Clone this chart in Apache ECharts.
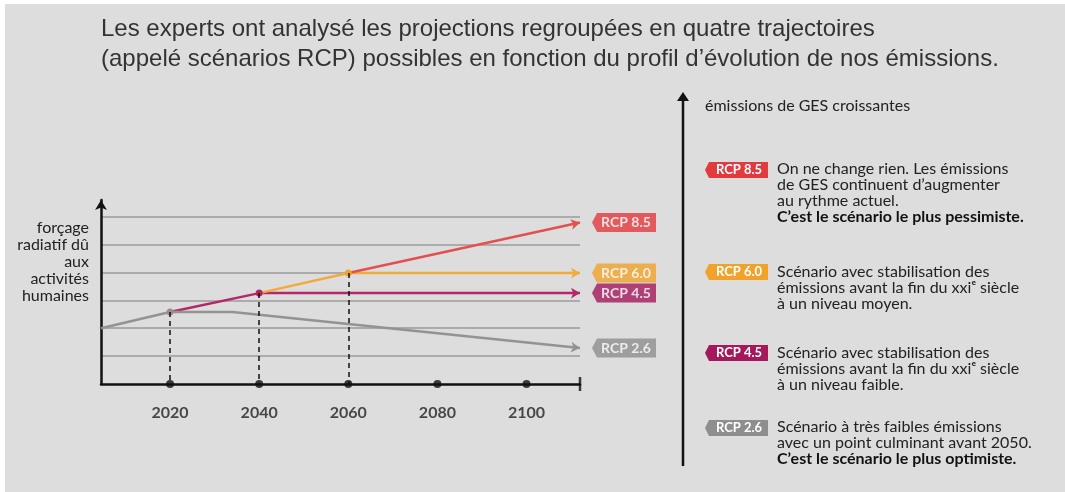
<!DOCTYPE html>
<html>
<head>
<meta charset="utf-8">
<script src="https://cdn.jsdelivr.net/npm/echarts@6/dist/echarts.min.js"></script>
<style>
  html, body { margin: 0; padding: 0; background: #fff; }
  #main { width: 1065px; height: 492px; }
</style>
</head>
<body>
<div id="main"></div>
<script>
// trajectoires (année, forçage radiatif en graduations)
const rcp26 = [[2004.5, 2.0], [2020, 2.58], [2034, 2.58], [2112, 1.29]];
const rcp45 = [[2020, 2.58], [2040, 3.26], [2112, 3.26]];
const rcp60 = [[2040, 3.26], [2060, 3.98], [2112, 3.98]];
const rcp85 = [[2060, 3.98], [2112, 5.79]];
const tickYears = [2020, 2040, 2060, 2080, 2100];
const tickLabels = ['2020', '2040', '2060', '2080', '2100'];
const dashYears = [2020, 2040, 2060];
const dashValues = [2.58, 3.26, 3.98];
const names = ['RCP 8.5', 'RCP 6.0', 'RCP 4.5', 'RCP 2.6'];
const colors = ['#e23b3f', '#f0a22a', '#a3195b', '#8e8e8e'];
const lineColors = ['#e4504f', '#f2aa3a', '#b3286a', '#939393'];

const chartDom = document.getElementById('main');
const myChart = echarts.init(chartDom);

// dernier point = tête de flèche
function withArrow(data, color, rot, firstDot) {
  return data.map((d, i) => {
    if (i === data.length - 1) {
      return { value: d, symbol: 'arrow', symbolSize: [8, 9], symbolRotate: rot, itemStyle: { color: color } };
    }
    if (i === 0 && firstDot) {
      return { value: d, symbol: 'circle', symbolSize: 7, itemStyle: { color: firstDot } };
    }
    return { value: d, symbol: 'none' };
  });
}

function lineSeries(name, data, color, rot, firstDot) {
  return {
    name: name,
    type: 'line',
    data: withArrow(data, color, rot, firstDot),
    showSymbol: true,
    symbol: 'none',
    clip: false,
    silent: true,
    lineStyle: { color: color, width: 2.5 },
    z: 3
  };
}

const tagPath = 'path://M0,10 L5,0 L64,0 L64,20 L5,20 Z';
const ends = [rcp85, rcp60, rcp45, rcp26].map(s => s[s.length - 1]);
const bodyFont = 'Lato, "Noto Sans", sans-serif';

const panelX = 705;
const blocks = [
  { y: 161, tagY: 170, lines: ['On ne change rien. Les émissions', 'de GES continuent d’augmenter', 'au rythme actuel.'], bold: 'C’est le scénario le plus pessimiste.' },
  { y: 264, tagY: 272, lines: ['Scénario avec stabilisation des', 'émissions avant la fin du xxiᵉ siècle', 'à un niveau moyen.'], bold: null },
  { y: 345, tagY: 353, lines: ['Scénario avec stabilisation des', 'émissions avant la fin du xxiᵉ siècle', 'à un niveau faible.'], bold: null },
  { y: 419, tagY: 428, lines: ['Scénario à très faibles émissions', 'avec un point culminant avant 2050.'], bold: 'C’est le scénario le plus optimiste.' }
];

const graphics = [
  { type: 'rect', shape: { x: 0, y: 0, width: 1065, height: 4 }, style: { fill: '#ffffff' }, silent: true },
  { type: 'rect', shape: { x: 0, y: 0, width: 5, height: 492 }, style: { fill: '#ffffff' }, silent: true },
  {
    type: 'text', left: 101, top: 14,
    style: { text: 'Les experts ont analysé les projections regroupées en quatre trajectoires\n(appelé scénarios RCP) possibles en fonction du profil d’évolution de nos émissions.',
      font: '24px "Liberation Sans", Arial, sans-serif', fill: '#333', lineHeight: 30 }
  },
  {
    type: 'text', x: 89, y: 219,
    style: { text: 'forçage\nradiatif dû\naux\nactivités\nhumaines', align: 'right', verticalAlign: 'top',
      font: '16px ' + bodyFont, fill: '#222', lineHeight: 17 }
  },
  { type: 'line', shape: { x1: 683, y1: 466, x2: 683, y2: 98 }, style: { stroke: '#111', lineWidth: 2.5 } },
  { type: 'polygon', shape: { points: [[677, 101], [683, 92], [689, 101]] }, style: { fill: '#111' } },
  {
    type: 'text', x: panelX, y: 106,
    style: { text: 'émissions de GES croissantes', verticalAlign: 'middle',
      font: '16px ' + bodyFont, fill: '#222' }
  }
];

blocks.forEach((b, i) => {
  graphics.push({
    type: 'polygon',
    shape: { points: [[panelX, b.tagY], [panelX + 4, b.tagY - 8], [panelX + 63, b.tagY - 8], [panelX + 63, b.tagY + 8], [panelX + 4, b.tagY + 8]] },
    style: { fill: colors[i] }
  });
  graphics.push({
    type: 'text', x: panelX + 34, y: b.tagY,
    style: { text: names[i], align: 'center', verticalAlign: 'middle', fill: '#fff',
      font: 'bold 13px ' + bodyFont }
  });
  let txt = b.lines.map(l => '{n|' + l + '}').join('\n');
  if (b.bold) txt += '\n{b|' + b.bold + '}';
  graphics.push({
    type: 'text', x: 777, y: b.y,
    style: {
      text: txt, verticalAlign: 'top', fill: '#222',
      rich: {
        n: { fontFamily: bodyFont, fontSize: 16, lineHeight: 16, fill: '#222' },
        b: { fontFamily: bodyFont, fontSize: 16, lineHeight: 16, fontWeight: 'bold', fill: '#111' }
      }
    }
  });
});

const option = {
  backgroundColor: '#dddddd',
  animation: false,
  grid: { left: 101, right: 485, top: 200, bottom: 108 },
  xAxis: {
    type: 'value',
    min: 2004.5,
    max: 2112,
    axisLine: { show: true, onZero: true, lineStyle: { color: '#111', width: 2.5 } },
    axisTick: { show: false },
    axisLabel: { show: false },
    splitLine: { show: false }
  },
  yAxis: {
    type: 'value',
    min: 0,
    max: 6.6,
    interval: 1,
    axisLine: { show: true, symbol: ['none', 'arrow'], symbolSize: [9, 10], lineStyle: { color: '#111', width: 2.5 } },
    axisTick: { show: false },
    axisLabel: { show: false },
    splitLine: { show: true, showMinLine: false, showMaxLine: false, lineStyle: { color: '#9a9a9a', width: 1.5 } }
  },
  series: [
    lineSeries('RCP 2.6', rcp26, lineColors[3], -95.9, null),
    Object.assign(lineSeries('RCP 4.5', rcp45, lineColors[2], -90, '#a88592'), {
      markLine: {
        silent: true,
        symbol: ['none', 'none'],
        label: { show: false },
        lineStyle: { color: '#111', type: [5, 4], width: 1.5 },
        data: dashYears.map((x, i) => [{ coord: [x, dashValues[i]] }, { coord: [x, 0] }])
      },
      z: 2
    }),
    lineSeries('RCP 6.0', rcp60, lineColors[1], -90, '#b0245f'),
    Object.assign(lineSeries('RCP 8.5', rcp85, lineColors[0], -77.7, '#f0a22a'), { z: 4 }),
    {
      name: 'ticks',
      type: 'scatter',
      silent: true,
      clip: false,
      symbol: 'circle',
      symbolSize: 8,
      itemStyle: { color: '#111' },
      data: tickYears.map(y => [y, 0]),
      label: {
        show: true, position: 'bottom', distance: 17,
        formatter: p => tickLabels[p.dataIndex],
        fontFamily: bodyFont, fontWeight: 'bold', fontSize: 16, color: '#222'
      },
      z: 5
    },
    {
      name: 'end',
      type: 'scatter',
      silent: true,
      clip: false,
      symbol: 'rect',
      symbolSize: [2.5, 14],
      itemStyle: { color: '#111' },
      data: [[2112, 0]],
      z: 5
    },
    {
      name: 'tags',
      type: 'scatter',
      silent: true,
      clip: false,
      symbol: tagPath,
      symbolSize: [64, 19],
      symbolKeepAspect: false,
      symbolOffset: [44, 0],
      data: ends.map((d, i) => ({ value: d, name: names[i], itemStyle: { color: colors[i] } })),
      label: {
        show: true, position: 'inside', offset: [2, 0], formatter: p => p.name,
        color: '#fff', fontWeight: 'bold', fontSize: 14, fontFamily: bodyFont
      },
      z: 6
    }
  ],
  graphic: graphics
};

option && myChart.setOption(option);
</script>
</body>
</html>
